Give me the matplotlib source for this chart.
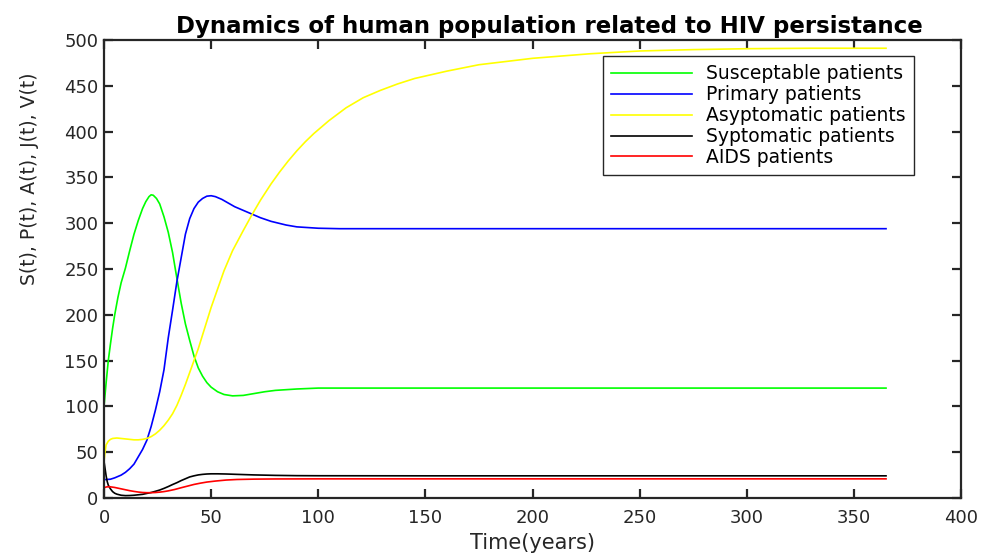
import matplotlib
matplotlib.use("Agg")
import matplotlib.pyplot as plt

# ---- data ----
t_S = [0, 0.5, 1, 1.5, 2, 3, 4, 5, 6.5, 8, 10, 12, 14, 16, 18, 19.5, 21, 22, 23, 24.5, 26, 28,
       30, 32, 34, 36, 38, 40, 42, 44, 46, 48, 50, 53, 56, 60, 65, 70, 75, 80, 90, 100, 120,
       150, 200, 250, 300, 365]
S = [100, 113, 126, 138, 150, 168, 185, 200, 219, 235, 251, 270, 288, 303, 316, 323.5, 329,
     331, 330.5, 327, 321, 307, 290, 268, 240, 213, 190, 172, 155, 142, 133, 126, 121, 116,
     113, 111.5, 112, 114, 116, 117.5, 119, 120, 120, 120, 120, 120, 120, 120]

t_P = [0, 3, 5, 8, 10, 12, 14, 16, 18, 20, 22, 24, 26, 28, 30, 32, 34, 36, 38, 40, 42, 44, 46,
       48, 50, 52, 55, 58, 61, 65, 69, 73, 78, 85, 90, 100, 110, 150, 200, 250, 300, 365]
P = [20, 20.5, 22, 25, 28, 32, 37, 45, 53, 63, 78, 96, 116, 140, 175, 205, 236, 262, 288, 305,
     316, 323, 327, 329.5, 330, 329, 326, 322, 318, 314, 310, 306, 302, 298, 296, 294.5, 294,
     294, 294, 294, 294, 294]

t_A = [0, 0.5, 1, 2, 3, 4, 6, 8, 10, 12, 14, 16, 18, 20, 22, 24, 26, 28, 30, 32, 34, 36, 38, 40,
       42, 44, 46, 48, 50, 53, 56, 60, 65, 69, 73, 78, 82, 86, 90, 94, 98, 105, 113, 121, 129,
       137, 145, 160, 175, 200, 227, 250, 275, 300, 330, 365]
A = [40, 50, 58, 62, 64, 65, 65.5, 65, 64.5, 64, 63.5, 63.5, 64, 65, 67, 70, 74, 79, 85, 92, 101,
     112, 124, 137, 150, 163, 178, 193, 208, 228, 248, 270, 292, 309, 325, 343, 356, 368, 379,
     389, 398, 412, 426, 437, 445, 452, 458, 466, 473, 480, 485, 488, 489.5, 490.5, 491, 491]

t_J = [0, 0.5, 1, 1.5, 2, 3, 4, 5, 6, 8, 10, 12, 14, 16, 18, 20, 22, 24, 26, 28, 30, 32, 34, 36,
       38, 40, 42, 44, 46, 48, 50, 53, 57, 62, 70, 80, 90, 100, 150, 200, 250, 300, 365]
J = [40, 32, 24, 18, 14, 10, 7, 5.2, 4.2, 3, 2.6, 2.7, 3, 3.5, 4, 5, 6, 7.3, 8.7, 10.5, 12.5,
     14.7, 16.7, 19, 21, 23, 24.2, 25.2, 25.8, 26.2, 26.4, 26.4, 26.2, 25.8, 25.2, 24.7, 24.4,
     24.3, 24.2, 24.2, 24.2, 24.2, 24.2]

t_V = [0, 1, 2, 3, 5, 8, 10, 12, 14, 16, 18, 20, 22, 24, 26, 28, 30, 33, 36, 39, 42, 45, 48, 52,
       57, 62, 70, 80, 100, 150, 365]
V = [11, 12, 12.3, 12.2, 11.5, 10, 9, 8, 7.2, 6.5, 6, 5.8, 5.8, 6, 6.4, 7, 7.8, 9.3, 11.2, 13,
     14.8, 16.2, 17.4, 18.5, 19.6, 20.2, 20.6, 20.8, 20.9, 20.9, 20.9]

labels = ["Susceptable patients", "Primary patients", "Asyptomatic patients",
          "Syptomatic patients", "AIDS patients"]
x_ticks = [0, 50, 100, 150, 200, 250, 300, 350, 400]
y_ticks = [0, 50, 100, 150, 200, 250, 300, 350, 400, 450, 500]

# ---- figure ----
plt.rcParams['font.family'] = ['DejaVu Sans']
W, H = 988, 554
fig = plt.figure(figsize=(W / 100, H / 100), dpi=100)
ax = fig.add_axes([104 / W, 1 - 498 / H, 857 / W, 458 / H])

axc = '#262626'
lw = 1.2
ax.plot(t_S, S, color='#00ff00', lw=lw, label=labels[0])
ax.plot(t_P, P, color='#0000ff', lw=lw, label=labels[1])
ax.plot(t_A, A, color='#ffff00', lw=lw, label=labels[2])
ax.plot(t_J, J, color='#000000', lw=lw, label=labels[3])
ax.plot(t_V, V, color='#ff0000', lw=lw, label=labels[4])

ax.set_xlim(0, 400)
ax.set_ylim(0, 500)
ax.set_xticks(x_ticks)
ax.set_yticks(y_ticks)
for s in ax.spines.values():
    s.set_color(axc)
    s.set_linewidth(1.6)
ax.tick_params(direction='in', length=6.5, width=1.6, color=axc, labelcolor=axc,
               labelsize=13, top=True, right=True)
ax.tick_params(axis='x', pad=8)
ax.tick_params(axis='y', pad=4)

ax.set_title("Dynamics of human population related to HIV persistance",
             fontsize=16.5, fontweight='bold', x=0.52, pad=5)
ax.set_xlabel("Time(years)", fontsize=15, color=axc, labelpad=4)
ax.set_ylabel("S(t), P(t), A(t), J(t), V(t)", fontsize=13.5, color=axc)
ax.yaxis.set_label_coords(-0.076, 0.697)

leg = ax.legend(loc='upper left', bbox_to_anchor=((603 - 104) / 857, (498 - 56) / 458),
                borderaxespad=0, fontsize=13.5, handlelength=4.3, handletextpad=0.75,
                labelspacing=0.1, borderpad=0.45, fancybox=False, framealpha=1)
leg.get_frame().set_edgecolor(axc)
leg.get_frame().set_linewidth(1.0)

fig.savefig("out.png", dpi=100)
